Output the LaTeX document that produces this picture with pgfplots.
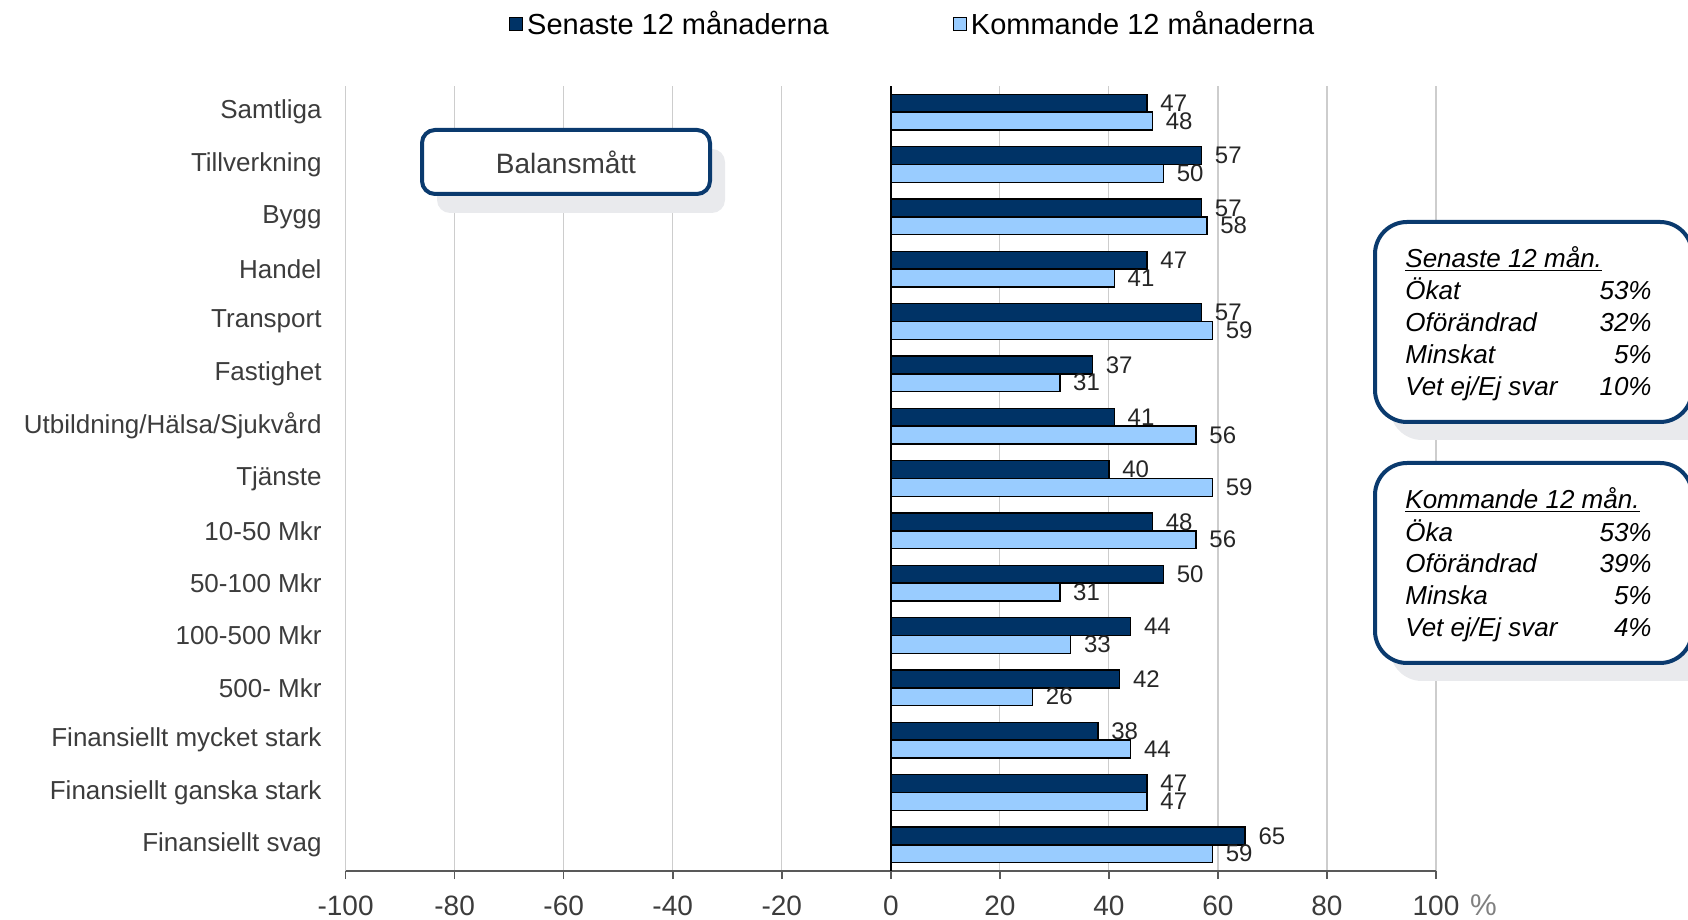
\documentclass[border=0pt]{standalone}
\usepackage{pgfplots}
\usepackage{pgfplotstable}
\pgfplotsset{compat=1.18}
\usepackage{fontspec}
\setmainfont{Liberation Sans}
\definecolor{darkbar}{HTML}{003366}
\definecolor{lightbar}{HTML}{99CCFF}
\definecolor{boxblue}{HTML}{0A3A6E}
\definecolor{shadowgray}{HTML}{E9EAED}
\definecolor{labelgray}{HTML}{3C3C3C}
\definecolor{gridgray}{HTML}{CDCDCD}

\pgfplotstableread{
idx last next
1 47 48
2 57 50
3 57 58
4 47 41
5 57 59
6 37 31
7 41 56
8 40 59
9 48 56
10 50 31
11 44 33
12 42 26
13 38 44
14 47 47
15 65 59
}\datatable

\begin{document}
\begin{tikzpicture}
\useasboundingbox (0,0) rectangle (844pt,460pt);
\begin{axis}[
  at={(172.8pt,24.5pt)}, anchor=south west,
  width=545.2pt, height=392.5pt, scale only axis,
  xmin=-100, xmax=100, ymin=0.5, ymax=15.5,
  y dir=reverse,
  xbar, bar width=8.9pt,
  axis x line*=bottom,
  y axis line style={draw=none},
  x axis line style={draw=black!65, line width=0.8pt},
  xtick={-100,-80,...,100},
  ytick={1,...,15},
  yticklabels={Samtliga,Tillverkning,Bygg,Handel,Transport,Fastighet,Utbildning/Hälsa/Sjukvård,Tjänste,10-50 Mkr,50-100 Mkr,100-500 Mkr,500- Mkr,Finansiellt mycket stark,Finansiellt ganska stark,Finansiellt svag},
  xmajorgrids, grid style={gridgray, line width=0.6pt},
  tick align=outside,
  xtick style={draw=black!65, line width=0.8pt},
  major tick length=4pt,
  ytick style={draw=none},
  /pgf/number format/assume math mode=true,
  xticklabel style={font=\fontsize{14}{14}\selectfont, text=labelgray, yshift=-5pt},
  yticklabel style={font=\fontsize{13}{13}\selectfont, text=labelgray, xshift=-4.5pt},
  nodes near coords,
  every node near coord/.append style={anchor=west, font=\fontsize{12}{12}\selectfont, text=black!85, xshift=3pt},
  legend style={at={(0.521,1.079)}, anchor=center, legend columns=2, draw=none, fill=none,
    font=\fontsize{14.5}{14.5}\selectfont,
    /tikz/every even column/.append style={column sep=60pt}},
  legend image code/.code={\draw[#1, draw=black, line width=0.6pt] (0pt,-3.3pt) rectangle (6.5pt,3.3pt);},
  clip=false,
]
\addplot[fill=darkbar, draw=black, line width=0.7pt, bar shift=4.45pt] table[x=last, y=idx] {\datatable};
\addplot[fill=lightbar, draw=black, line width=0.7pt, bar shift=-4.45pt] table[x=next, y=idx] {\datatable};
\legend{Senaste 12 månaderna, Kommande 12 månaderna}
\draw[black, line width=0.8pt] (axis cs:0,0.5) -- (axis cs:0,15.5);
\end{axis}
% percent sign
\node[text=black!50, font=\fontsize{15}{15}\selectfont] at (741.7pt,7.5pt) {\%};
% Balansmatt box
\fill[shadowgray, rounded corners=6.5pt] (218.5pt,353.5pt) rectangle (362.5pt,385.5pt);
\draw[boxblue, line width=2pt, fill=white, rounded corners=6.5pt] (211pt,363pt) rectangle (355pt,395pt);
\node[text=labelgray, font=\fontsize{14}{14}\selectfont] at (283pt,379pt) {Balansmått};
% Right box 1
\fill[shadowgray, rounded corners=16pt] (695pt,240pt) rectangle (860pt,340pt);
\draw[boxblue, line width=2pt, fill=white, rounded corners=16pt] (687.5pt,249pt) rectangle (846pt,349pt);
\begin{scope}[every node/.style={font=\fontsize{13}{13}\selectfont\itshape, text=black, inner sep=0pt}]
\node[anchor=base west] at (702.5pt,326.4pt) {\underline{Senaste 12 mån.}};
\node[anchor=base west] at (702.5pt,310.4pt) {Ökat};
\node[anchor=base west] at (702.5pt,294.4pt) {Oförändrad};
\node[anchor=base west] at (702.5pt,278.4pt) {Minskat};
\node[anchor=base west] at (702.5pt,262.4pt) {Vet ej/Ej svar};
\node[anchor=base east] at (826pt,310.4pt) {53\%};
\node[anchor=base east] at (826pt,294.4pt) {32\%};
\node[anchor=base east] at (826pt,278.4pt) {5\%};
\node[anchor=base east] at (826pt,262.4pt) {10\%};
\end{scope}
% Right box 2
\fill[shadowgray, rounded corners=16pt] (695pt,119.5pt) rectangle (860pt,219.5pt);
\draw[boxblue, line width=2pt, fill=white, rounded corners=16pt] (687.5pt,128.5pt) rectangle (846pt,228.5pt);
\begin{scope}[every node/.style={font=\fontsize{13}{13}\selectfont\itshape, text=black, inner sep=0pt}]
\node[anchor=base west] at (702.5pt,205.9pt) {\underline{Kommande 12 mån.}};
\node[anchor=base west] at (702.5pt,189.4pt) {Öka};
\node[anchor=base west] at (702.5pt,173.9pt) {Oförändrad};
\node[anchor=base west] at (702.5pt,157.9pt) {Minska};
\node[anchor=base west] at (702.5pt,141.9pt) {Vet ej/Ej svar};
\node[anchor=base east] at (826pt,189.4pt) {53\%};
\node[anchor=base east] at (826pt,173.9pt) {39\%};
\node[anchor=base east] at (826pt,157.9pt) {5\%};
\node[anchor=base east] at (826pt,141.9pt) {4\%};
\end{scope}
\end{tikzpicture}
\end{document}
